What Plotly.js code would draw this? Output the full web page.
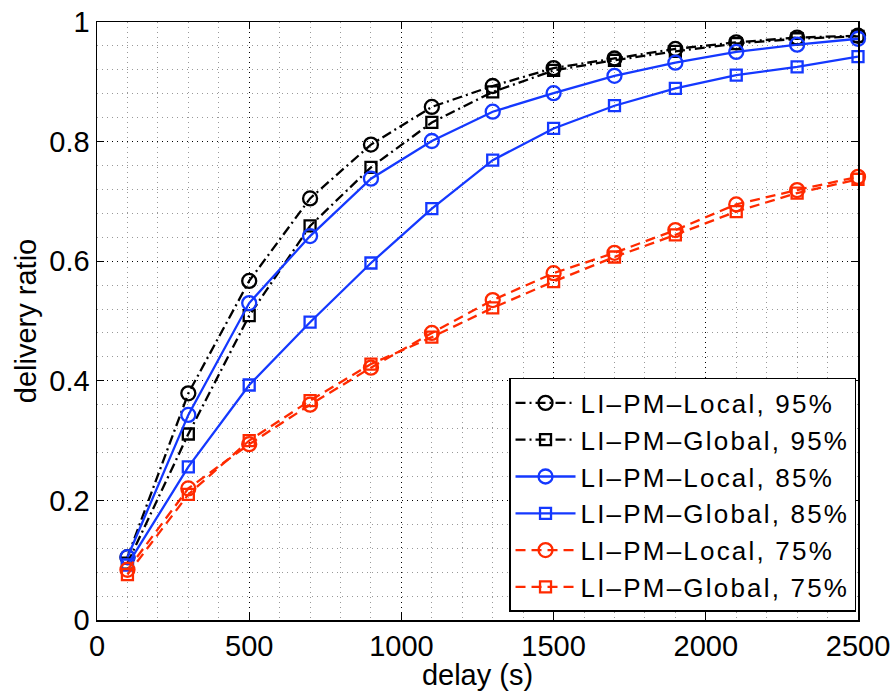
<!DOCTYPE html>
<html>
<head>
<meta charset="utf-8">
<script src="https://cdn.plot.ly/plotly-3.0.1.min.js"></script>
<style>
html,body{margin:0;padding:0;background:#fff;}
#chart{width:891px;height:691px;}
.legendtext{letter-spacing:2.2px;}
</style>
</head>
<body>
<div id="chart"></div>
<script>
const delay = [100, 300, 500, 700, 900, 1100, 1300, 1500, 1700, 1900, 2100, 2300, 2500];
const local95  = [0.105, 0.379, 0.567, 0.705, 0.795, 0.858, 0.893, 0.923, 0.939, 0.955, 0.966, 0.974, 0.977];
const global95 = [0.095, 0.311, 0.509, 0.659, 0.757, 0.832, 0.883, 0.919, 0.936, 0.951, 0.964, 0.972, 0.976];
const local85  = [0.105, 0.343, 0.530, 0.642, 0.738, 0.801, 0.850, 0.881, 0.910, 0.932, 0.950, 0.962, 0.972];
const global85 = [0.092, 0.256, 0.393, 0.498, 0.597, 0.688, 0.769, 0.822, 0.860, 0.889, 0.911, 0.925, 0.942];
const local75  = [0.084, 0.220, 0.294, 0.360, 0.422, 0.480, 0.535, 0.580, 0.614, 0.652, 0.695, 0.719, 0.741];
const global75 = [0.076, 0.210, 0.300, 0.367, 0.428, 0.473, 0.522, 0.566, 0.607, 0.644, 0.683, 0.714, 0.737];
const names = ['LI–PM–Local, 95%', 'LI–PM–Global, 95%', 'LI–PM–Local, 85%', 'LI–PM–Global, 85%', 'LI–PM–Local, 75%', 'LI–PM–Global, 75%'];

const BLACK = '#000000', BLUE = '#1438ff', RED = '#ff2a00';
function tr(y, name, color, dash, symbol, size) {
  return {
    x: delay, y: y, name: name, type: 'scatter', mode: 'lines+markers',
    line: {color: color, width: 2.3, dash: dash},
    marker: {symbol: symbol, size: size, color: color, line: {color: color, width: 2.3}},
    cliponaxis: false
  };
}
const data = [
  tr(local95, names[0], BLACK, '10px,4px,2px,4px', 'circle-open', 14),
  tr(global95, names[1], BLACK, '10px,4px,2px,4px', 'square-open', 11),
  tr(local85, names[2], BLUE, 'solid', 'circle-open', 14),
  tr(global85, names[3], BLUE, 'solid', 'square-open', 11),
  tr(local75, names[4], RED, '10px,6px', 'circle-open', 14),
  tr(global75, names[5], RED, '10px,6px', 'square-open', 11)
];
const FAM = 'Liberation Sans, Arial, Helvetica, sans-serif';
const layout = {
  width: 891, height: 691,
  margin: {l: 97, r: 33, t: 22, b: 71},
  paper_bgcolor: '#fff', plot_bgcolor: '#fff',
  font: {family: FAM, color: '#000', size: 29},
  showlegend: true,
  legend: {
    x: 0.9974, y: 0.0134, xanchor: 'right', yanchor: 'bottom',
    bgcolor: '#fff', bordercolor: '#000', borderwidth: 1.5,
    font: {family: FAM, size: 26, color: '#000'},
    tracegroupgap: 0, itemwidth: 60
  },
  xaxis: {
    range: [0, 2500], dtick: 500, tick0: 0,
    showline: true, linecolor: '#000', linewidth: 1.5, mirror: 'ticks',
    ticks: 'inside', ticklen: 7, tickcolor: '#000',
    showgrid: true, gridcolor: '#000', griddash: '1px,4px', gridwidth: 1,
    minor: {dtick: 100, showgrid: true, gridcolor: '#999', griddash: '1px,4px', gridwidth: 1, ticks: ''},
    zeroline: false,
    tickfont: {family: FAM, size: 29, color: '#000'},
    title: {text: 'delay (s)', font: {family: FAM, size: 29, color: '#000'}, standoff: 0}
  },
  yaxis: {
    range: [0, 1], dtick: 0.2, tick0: 0,
    showline: true, linecolor: '#000', linewidth: 1.5, mirror: 'ticks',
    ticks: 'inside', ticklen: 7, tickcolor: '#000',
    showgrid: true, gridcolor: '#000', griddash: '1px,4px', gridwidth: 1,
    minor: {dtick: 0.04, showgrid: true, gridcolor: '#999', griddash: '1px,4px', gridwidth: 1, ticks: ''},
    zeroline: false,
    tickfont: {family: FAM, size: 29, color: '#000'},
    title: {text: 'delivery ratio', font: {family: FAM, size: 29, color: '#000'}, standoff: 4}
  }
};
Plotly.newPlot('chart', data, layout, {displayModeBar: false, staticPlot: true});
</script>
</body>
</html>
